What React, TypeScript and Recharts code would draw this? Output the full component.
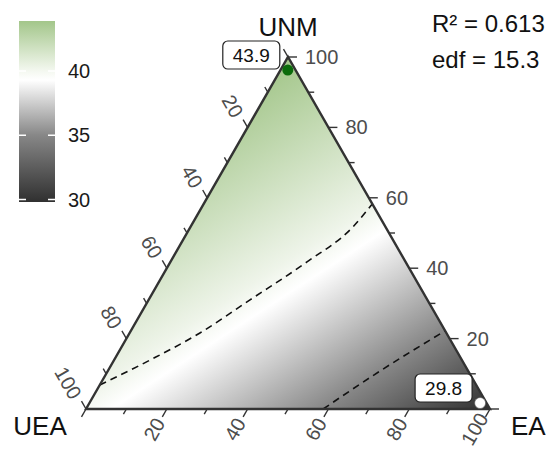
import React from 'react';
import {
  ComposedChart,
  Area,
  Line,
  Scatter,
  XAxis,
  YAxis,
  BarChart,
  Bar,
  ReferenceLine,
} from 'recharts';

const FONT = '"Liberation Sans", Arial, Helvetica, sans-serif';
const EDGE = '#333333';
const TICK_TEXT = '#4d4d4d';

// ternary axes (percent): EA along the bottom, UNM up the right edge, UEA down the left edge
const axisSteps = [0, 10, 20, 30, 40, 50, 60, 70, 80, 90, 100];
const axisLabels = [20, 40, 60, 80, 100];
const cornerNames = ['UEA', 'EA', 'UNM'];

// dashed contours of the fitted surface (EA %, UNM %)
const contourHighEA = [0, 8.9, 17.4, 25.1, 33.8, 40.2, 41.7];
const contourHighUNM = [6.8, 13.9, 21.6, 31.0, 41.8, 51.7, 58.2];
const contourLowEA = [58.7, 67.4, 77.8];
const contourLowUNM = [0, 10.8, 22.2];

// fitted maximum and minimum
const extremeEA = [1.8, 96.7];
const extremeUNM = [96.3, 1.7];
const extremeValues = [43.9, 29.8];

// colour key
const keyRange = [29.8, 43.9];
const keyTicks = [30, 35, 40];

const fitStats = ['R² = 0.613', 'edf = 15.3'];

// ternary -> cartesian (x in 0..1 along the base, y in 0..1 up to the apex)
const toXY = (ea: number, unm: number) => ({ x: ea / 100 + unm / 200, y: unm / 100 });

const corners: Record<string, { x: number; y: number }> = {
  UEA: toXY(0, 0),
  EA: toXY(100, 0),
  UNM: toXY(0, 100),
};

const triangleFill = [corners.UEA, corners.UNM, corners.EA];
const triangleEdge = [corners.UNM, corners.EA, corners.UEA, corners.UNM, corners.EA];

const contourHigh = contourHighEA.map((ea, i) => toXY(ea, contourHighUNM[i]));
const contourLow = contourLowEA.map((ea, i) => toXY(ea, contourLowUNM[i]));

const bottomTicks = axisSteps.map((t) => ({ ...toXY(t, 0), step: t }));
const rightTicks = axisSteps.map((t) => ({ ...toXY(100 - t, t), step: t }));
const leftTicks = axisSteps.map((t) => ({ ...toXY(0, 100 - t), step: t }));

const cornerPoints = cornerNames.map((name) => ({ ...corners[name], name }));
const extremePoints = extremeValues.map((value, i) => ({ ...toXY(extremeEA[i], extremeUNM[i]), value }));

const keyData = [{ key: 'fit', span: keyRange }];

type TickStyle = {
  dx: number;
  dy: number;
  lx: number;
  ly: number;
  longShift: number;
  rotate: number;
  anchor: 'start' | 'end';
};

const makeTick = (s: TickStyle) => (props: any) => {
  const { cx, cy, payload } = props;
  const len = payload.step % 20 === 0 ? 9 : 6;
  const tx = cx + s.lx;
  const ty = cy + s.ly + (payload.step >= 100 ? s.longShift : 0);
  return (
    <g>
      <line x1={cx} y1={cy} x2={cx + s.dx * len} y2={cy + s.dy * len} stroke={EDGE} strokeWidth={1.4} />
      {axisLabels.includes(payload.step) && (
        <text
          x={tx}
          y={ty}
          transform={s.rotate ? `rotate(${s.rotate} ${tx} ${ty})` : undefined}
          textAnchor={s.anchor}
          dominantBaseline="central"
          fontSize={20}
          fill={TICK_TEXT}
          fontFamily={FONT}
        >
          {payload.step}
        </text>
      )}
    </g>
  );
};

const BottomTick = makeTick({ dx: -0.5, dy: 0.866, lx: -7, ly: 10.5, longShift: -5, rotate: -60, anchor: 'end' });
const RightTick = makeTick({ dx: 1, dy: 0, lx: 17, ly: 0, longShift: 0, rotate: 0, anchor: 'start' });
const LeftTick = makeTick({ dx: -0.5, dy: -0.866, lx: -9.5, ly: -11.5, longShift: 0, rotate: 60, anchor: 'end' });

const cornerOffset: Record<string, [number, number, 'start' | 'middle' | 'end']> = {
  UEA: [-46, 26, 'middle'],
  EA: [21, 26, 'start'],
  UNM: [0, -21, 'middle'],
};

const CornerLabel = (props: any) => {
  const { cx, cy, payload } = props;
  const [dx, dy, anchor] = cornerOffset[payload.name];
  return (
    <text x={cx + dx} y={cy + dy} textAnchor={anchor} fontSize={26} fill="#111" fontFamily={FONT}>
      {payload.name}
    </text>
  );
};

const ExtremeMark = (props: any) => {
  const { cx, cy, payload } = props;
  const isMax = payload.value === Math.max(...extremeValues);
  const w = 57;
  const h = 28;
  const bx = cx - 8 - w;
  const by = cy - 15 - h / 2;
  return (
    <g>
      <circle cx={cx} cy={cy} r={5.5} fill={isMax ? '#0b6b0b' : '#ffffff'} stroke={isMax ? 'none' : '#555'} strokeWidth={0.6} />
      <rect x={bx} y={by} width={w} height={h} rx={5} fill="#ffffff" stroke="#222" strokeWidth={1.2} />
      <text x={bx + w / 2} y={by + h / 2} textAnchor="middle" dominantBaseline="central" fontSize={19} fill="#111" fontFamily={FONT}>
        {payload.value.toFixed(1)}
      </text>
    </g>
  );
};

const keyOffset = (v: number) => (keyRange[1] - v) / (keyRange[1] - keyRange[0]);

export default function App() {
  return (
    <div style={{ position: 'absolute', left: 0, top: 0, width: 549, height: 450, background: '#fff', fontFamily: FONT }}>
      <div style={{ position: 'absolute', left: 0, top: 0 }}>
        <ComposedChart width={549} height={450} margin={{ top: 57, right: 59, bottom: 41, left: 86 }}>
          <defs>
            <linearGradient id="surface" gradientUnits="userSpaceOnUse" x1={288} y1={57} x2={509} y2={396}>
              <stop offset={0} stopColor="#a3c68a" />
              <stop offset={0.42} stopColor="#eef4e9" />
              <stop offset={0.49} stopColor="#ffffff" />
              <stop offset={0.776} stopColor="#878787" />
              <stop offset={1} stopColor="#303030" />
            </linearGradient>
          </defs>
          <XAxis type="number" dataKey="x" domain={[0, 1]} hide />
          <YAxis type="number" domain={[0, 1]} hide />
          <Area data={triangleFill} dataKey="y" type="linear" stroke="none" fill="url(#surface)" fillOpacity={1} isAnimationActive={false} />
          <Line data={contourHigh} dataKey="y" type="monotone" stroke="#111" strokeWidth={1.6} strokeDasharray="7 5" dot={false} activeDot={false} isAnimationActive={false} />
          <Line data={contourLow} dataKey="y" type="monotone" stroke="#111" strokeWidth={1.6} strokeDasharray="7 5" dot={false} activeDot={false} isAnimationActive={false} />
          <Line data={triangleEdge} dataKey="y" type="linear" stroke={EDGE} strokeWidth={2.4} dot={false} activeDot={false} isAnimationActive={false} />
          <Scatter data={bottomTicks} dataKey="y" shape={BottomTick} isAnimationActive={false} />
          <Scatter data={rightTicks} dataKey="y" shape={RightTick} isAnimationActive={false} />
          <Scatter data={leftTicks} dataKey="y" shape={LeftTick} isAnimationActive={false} />
          <Scatter data={cornerPoints} dataKey="y" shape={CornerLabel} isAnimationActive={false} />
          <Scatter data={extremePoints} dataKey="y" shape={ExtremeMark} isAnimationActive={false} />
        </ComposedChart>
      </div>
      <div style={{ position: 'absolute', left: 0, top: 0 }}>
        <BarChart width={120} height={220} data={keyData} margin={{ top: 21, right: 0, bottom: 18, left: 19 }} barCategoryGap={0}>
          <defs>
            <linearGradient id="keyFill" x1="0" y1="0" x2="0" y2="1">
              <stop offset={0} stopColor="#a3c68a" />
              <stop offset={keyOffset(40)} stopColor="#f4f8f0" />
              <stop offset={keyOffset(39.3)} stopColor="#ffffff" />
              <stop offset={keyOffset(35)} stopColor="#878787" />
              <stop offset={1} stopColor="#303030" />
            </linearGradient>
          </defs>
          <XAxis dataKey="key" hide />
          <YAxis
            orientation="right"
            type="number"
            domain={keyRange}
            ticks={keyTicks}
            width={65}
            axisLine={false}
            tickLine={false}
            tickMargin={7}
            tick={{ fontSize: 20, fill: '#1a1a1a', fontFamily: FONT }}
          />
          <Bar dataKey="span" fill="url(#keyFill)" isAnimationActive={false} />
          {keyTicks.map((v) => (
            <ReferenceLine key={v} y={v} stroke="#ffffff" strokeWidth={1.5} strokeDasharray="7 22 7" />
          ))}
        </BarChart>
      </div>
      {fitStats.map((s, i) => (
        <div
          key={s}
          style={{ position: 'absolute', left: 432, top: 12 + i * 36, fontSize: 24, lineHeight: '24px', color: '#111', whiteSpace: 'nowrap' }}
        >
          {s}
        </div>
      ))}
    </div>
  );
}
